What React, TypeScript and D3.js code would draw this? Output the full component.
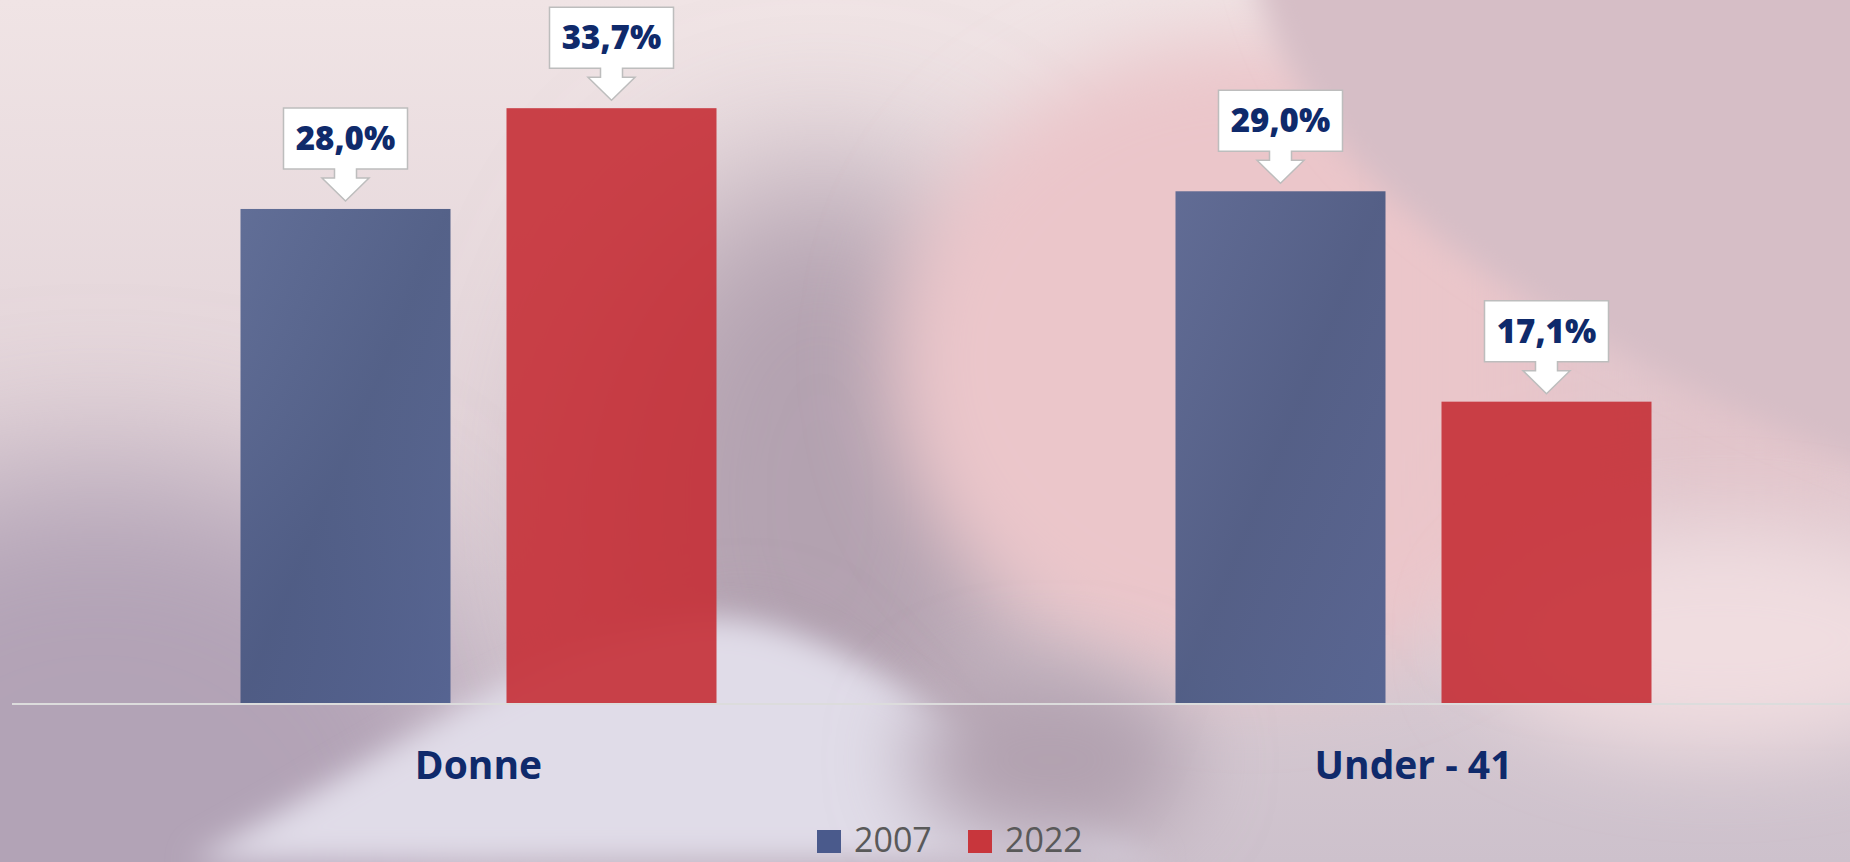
import React from "react";
import * as d3 from "d3";

const categories = ["Donne", "Under - 41"];
const seriesNames = ["2007", "2022"];
const values2007 = [28.0, 29.0];
const values2022 = [33.7, 17.1];
const valueLabels2007 = ["28,0%", "29,0%"];
const valueLabels2022 = ["33,7%", "17,1%"];
const seriesColors = ["#3f5187", "#c52f36"];

const W = 1850;
const H = 862;

export default function App() {
  const baseY = 704;
  const y = d3.scaleLinear().domain([0, 40]).range([baseY, baseY - 40 * 17.68]);
  const x0 = d3.scaleBand<string>().domain(categories).range([11, 1881]).padding(0);
  const step = 266;
  const po = (x0.bandwidth() / step - 2 + 56 / step) / 2;
  const x1 = d3
    .scaleBand<string>()
    .domain(seriesNames)
    .range([0, x0.bandwidth()])
    .paddingInner(56 / step)
    .paddingOuter(po);

  const seriesValues = [values2007, values2022];
  const seriesLabels = [valueLabels2007, valueLabels2022];

  const callout = (cx: number, top: number) => {
    const bw = 124, bh = 61, sw = 11, hw = 23.5;
    const bt = top - 101;
    const bb = bt + bh;
    const stemEnd = top - 31;
    const tip = top - 8;
    const p = d3.path();
    p.moveTo(cx - bw / 2, bt);
    p.lineTo(cx + bw / 2, bt);
    p.lineTo(cx + bw / 2, bb);
    p.lineTo(cx + sw, bb);
    p.lineTo(cx + sw, stemEnd);
    p.lineTo(cx + hw, stemEnd);
    p.lineTo(cx, tip);
    p.lineTo(cx - hw, stemEnd);
    p.lineTo(cx - sw, stemEnd);
    p.lineTo(cx - sw, bb);
    p.lineTo(cx - bw / 2, bb);
    p.closePath();
    return p.toString();
  };

  return (
    <svg width={W} height={H} style={{ display: "block", position: "absolute", left: 0, top: 0 }}>
      <defs>
        <linearGradient id="base" x1="0" y1="0" x2="0" y2="1">
          <stop offset="0" stopColor="#f0e4e5" />
          <stop offset="0.5" stopColor="#e2d3d8" />
          <stop offset="1" stopColor="#cdc1cc" />
        </linearGradient>
        <filter id="b80" x="-50%" y="-50%" width="200%" height="200%">
          <feGaussianBlur stdDeviation="80" />
        </filter>
        <filter id="b40" x="-50%" y="-50%" width="200%" height="200%">
          <feGaussianBlur stdDeviation="40" />
        </filter>
        <filter id="b15" x="-50%" y="-50%" width="200%" height="200%">
          <feGaussianBlur stdDeviation="15" />
        </filter>
        <linearGradient id="blueG" x1="0" y1="0" x2="1" y2="1">
          <stop offset="0" stopColor="#52628f" />
          <stop offset="0.5" stopColor="#44547f" />
          <stop offset="1" stopColor="#4a5b8c" />
        </linearGradient>
      </defs>
      {/* background */}
      <rect x={0} y={0} width={W} height={H} fill="url(#base)" />
      <ellipse cx={100} cy={830} rx={400} ry={360} fill="#b2a3b6" filter="url(#b80)" />
      <ellipse cx={820} cy={500} rx={230} ry={330} fill="#b3a2b0" filter="url(#b80)" />
      <ellipse cx={1250} cy={360} rx={360} ry={320} fill="#ebc6ca" filter="url(#b40)" />
      <rect x={1550} y={0} width={400} height={560} fill="#e2c4ca" filter="url(#b80)" />
      <path d="M1250 -40 C1290 150 1450 300 1900 480 L1900 -40 Z" fill="#d6bec6" filter="url(#b15)" />
      <ellipse cx={1720} cy={640} rx={240} ry={110} fill="#f0dde0" filter="url(#b40)" />
      <path
        d="M980 862 C900 760 860 690 800 650 C740 600 680 640 620 720 C560 790 500 830 440 862 Z"
        fill="#a898a8"
        filter="url(#b40)"
      />
      <path
        d="M190 862 C380 760 540 640 700 618 C830 605 1000 760 1160 862 Z"
        fill="#e0dce8"
        filter="url(#b15)"
      />
      <ellipse cx={1050} cy={760} rx={140} ry={90} fill="#b2a2b0" filter="url(#b40)" />

      {/* bars */}
      {categories.map((c, ci) =>
        seriesNames.map((s, si) => {
          const v = seriesValues[si][ci];
          const bx = (x0(c) as number) + (x1(s) as number);
          return (
            <rect
              key={c + s}
              x={bx}
              y={y(v)}
              width={x1.bandwidth()}
              height={baseY - y(v)}
              fill={si === 0 ? "url(#blueG)" : seriesColors[1]}
              opacity={0.9}
            />
          );
        })
      )}

      {/* axis */}
      <line x1={12} x2={W} y1={baseY} y2={baseY} stroke="#dcdcdc" strokeWidth={2} />

      {/* callouts */}
      {categories.map((c, ci) =>
        seriesNames.map((s, si) => {
          const v = seriesValues[si][ci];
          const cx = (x0(c) as number) + (x1(s) as number) + x1.bandwidth() / 2;
          const top = y(v);
          return (
            <g key={"l" + c + s}>
              <path d={callout(cx, top)} fill="#ffffff" stroke="#bdbdbd" strokeWidth={1.5} />
              <text
                x={cx}
                y={top - 59}
                textAnchor="middle"
                fontFamily="'Open Sans', sans-serif"
                fontWeight={800}
                fontSize={33}
                fill="#0f2a6b"
              >
                {seriesLabels[si][ci]}
              </text>
            </g>
          );
        })
      )}

      {/* category labels */}
      {categories.map((c) => (
        <text
          key={"c" + c}
          x={(x0(c) as number) + x0.bandwidth() / 2}
          y={779}
          textAnchor="middle"
          fontFamily="'Open Sans', sans-serif"
          fontWeight={700}
          fontSize={39}
          fill="#0f2a6b"
        >
          {c}
        </text>
      ))}

      {/* legend */}
      {seriesNames.map((s, si) => {
        const lx = si === 0 ? 817 : 968;
        return (
          <g key={"lg" + s}>
            <rect x={lx} y={830} width={24} height={23} fill={si === 0 ? "#4a5a8c" : "#c8363c"} />
            <text
              x={lx + 37}
              y={852}
              fontFamily="'Open Sans', sans-serif"
              fontSize={34}
              fill="#595959"
            >
              {s}
            </text>
          </g>
        );
      })}
    </svg>
  );
}
